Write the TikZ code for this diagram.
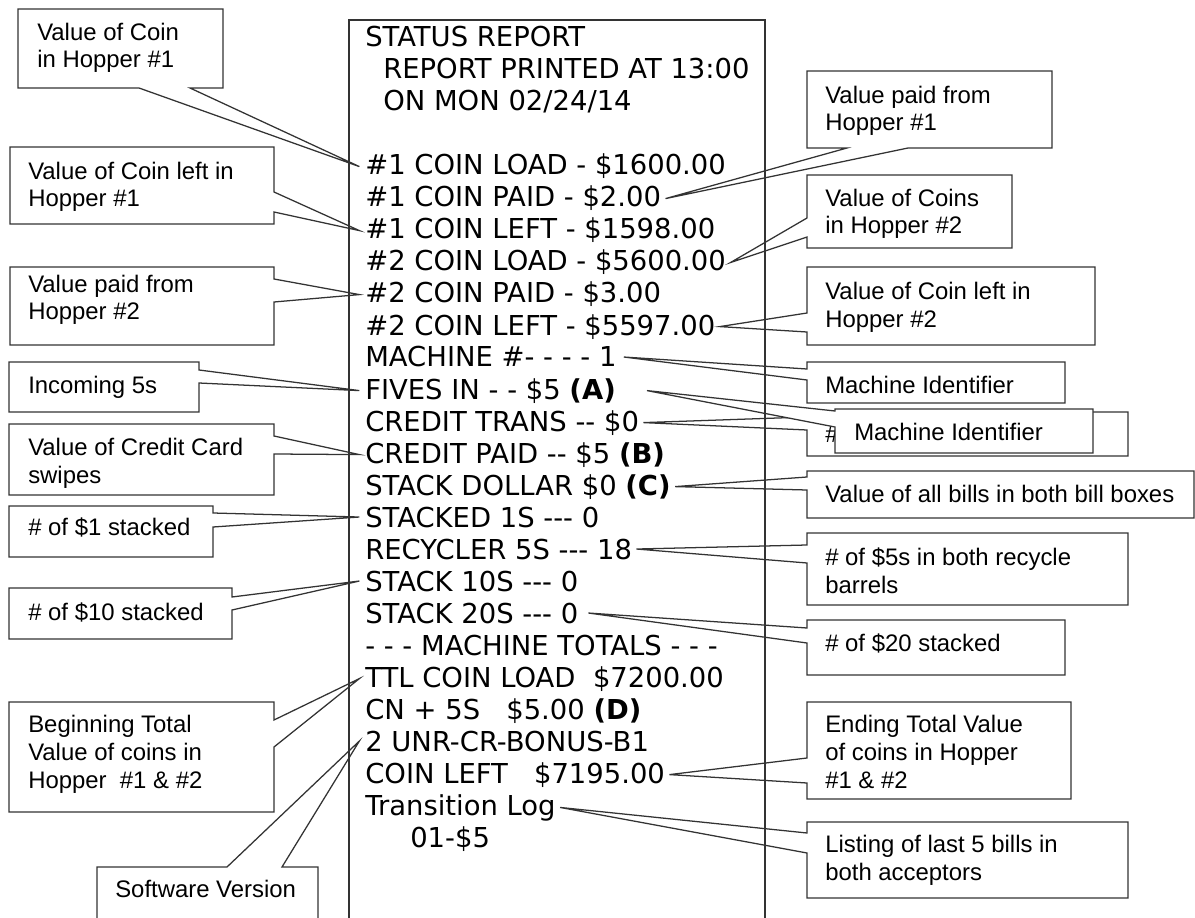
\documentclass[tikz,border=0pt]{standalone}
\usepackage{fontspec}
\usetikzlibrary{calc}
\newfontfamily\rptfont{DejaVu Sans}
\newfontfamily\callfont{Liberation Sans}
\newcommand\rptsize{\rptfont\fontsize{19.5pt}{22pt}\selectfont}
\newcommand\callsize{\callfont\fontsize{17pt}{19.6pt}\selectfont}
\tikzset{
  calloutbox/.style={draw=black!80, line width=0.9pt, fill=white, line join=miter},
  calltext/.style={font=\callsize, align=left, anchor=base west, inner sep=0pt},
  rpttext/.style={font=\rptsize, anchor=base west, inner sep=0pt},
  rptborder/.style={draw=black!80, line width=0.9pt},
}
\begin{document}
\begin{tikzpicture}[x=0.025cm, y=-0.025cm]
  \useasboundingbox (0,0) rectangle (1195,918);
  % report lines
  \foreach \n/\x/\t in {1/365/{STATUS REPORT}, 2/383/{REPORT PRINTED AT 13:00}, 3/383/{ON MON 02/24/14},
      5/365/{\#1 COIN LOAD - \$1600.00}, 6/365/{\#1 COIN PAID - \$2.00}, 7/365/{\#1 COIN LEFT - \$1598.00},
      8/365/{\#2 COIN LOAD - \$5600.00}, 9/365/{\#2 COIN PAID - \$3.00}, 10/365/{\#2 COIN LEFT - \$5597.00},
      11/365/{MACHINE \#- - - - 1}, 12/365/{FIVES IN - - \$5 \textbf{(A)}}, 13/365/{CREDIT TRANS -{}- \$0},
      14/365/{CREDIT PAID -{}- \$5 \textbf{(B)}}, 15/365/{STACK DOLLAR \$0 \textbf{(C)}}, 16/365/{STACKED 1S -{}-{}- 0},
      17/365/{RECYCLER 5S -{}-{}- 18}, 18/365/{STACK 10S -{}-{}- 0}, 19/365/{STACK 20S -{}-{}- 0},
      20/365/{- - - MACHINE TOTALS - - -}, 21/365/{TTL COIN LOAD\ \ \$7200.00}, 22/365/{CN + 5S\ \ \ \$5.00 \textbf{(D)}},
      23/365/{2 UNR-CR-BONUS-B1}, 24/365/{COIN LEFT\ \ \ \$7195.00}, 25/365/{Transition Log}, 26/410/{01-\$5}}
    \node[rpttext] (r\n) at (\x, 15+32*\n) {\t};

  % callouts on the left (text placed at its last baseline)
  \draw[calloutbox] (18,9) -- (223,9) -- (223,88) -- (190,88) -- ([xshift=-4pt]r5.west) -- (139,88) -- (18,88) -- cycle;
  \node[calltext] (vload1) at (37,68) {Value of Coin\\in Hopper \#1};
  \draw[calloutbox] (10,147) -- (274,147) -- (274,192) -- ([xshift=-4pt]r7.west) -- (274,212) -- (274,224) -- (10,224) -- cycle;
  \node[calltext] (vleft1) at (28,207) {Value of Coin left in\\Hopper \#1};
  \draw[calloutbox] (10,267) -- (274,267) -- (274,279) -- ([xshift=-4pt]r9.west) -- (274,302) -- (274,345) -- (10,345) -- cycle;
  \node[calltext] (vpaid2) at (28,320) {Value paid from\\Hopper \#2};
  \draw[calloutbox] (9,362) -- (199,362) -- (199,370) -- ([xshift=-4pt]r12.west) -- (199,383) -- (199,412) -- (9,412) -- cycle;
  \node[calltext] (fives) at (28,393) {Incoming 5s};
  \draw[calloutbox] (9,424) -- (274,424) -- (274,436) -- ([xshift=-4pt]r14.west) -- (274,454) -- (274,495) -- (9,495) -- cycle;
  \node[calltext] (credit) at (28,483) {Value of Credit Card\\swipes};
  \draw[calloutbox] (9,506) -- (213,506) -- (213,513) -- ([xshift=-4pt]r16.west) -- (213,527) -- (213,557) -- (9,557) -- cycle;
  \node[calltext] (ones) at (28,535) {\# of \$1 stacked};
  \draw[calloutbox] (9,588) -- (232,588) -- (232,597) -- ([xshift=-4pt]r18.west) -- (232,610) -- (232,639) -- (9,639) -- cycle;
  \node[calltext] (tens) at (28,620) {\# of \$10 stacked};
  \draw[calloutbox] (9,702) -- (274,702) -- (274,720) -- ([xshift=-4pt]r21.west) -- (274,747) -- (274,812) -- (9,812) -- cycle;
  \node[calltext] (begin) at (28,788) {Beginning Total\\Value of coins in\\Hopper\ \ \#1 \& \#2};
  \draw[calloutbox] (97,867) -- (227,867) -- ([xshift=-4pt]r23.west) -- (282,867) -- (318,867) -- (318,930) -- (97,930) -- cycle;
  \node[calltext] (soft) at (115,897) {Software Version};

  % callouts on the right
  \draw[calloutbox] (807,71) -- (1052,71) -- (1052,148) -- (908,148) -- ([xshift=3pt]r6.east) -- (847,148) -- (807,148) -- cycle;
  \node[calltext] (vpaid1) at (825,131) {Value paid from\\Hopper \#1};
  \draw[calloutbox] (807,175) -- (1012,175) -- (1012,248) -- (807,248) -- (807,237) -- ([xshift=3pt]r8.east) -- (807,218) -- cycle;
  \node[calltext] (vload2) at (825,234) {Value of Coins\\in Hopper \#2};
  \draw[calloutbox] (807,267) -- (1095,267) -- (1095,345) -- (807,345) -- (807,332) -- ([xshift=3pt]r10.east) -- (807,313) -- cycle;
  \node[calltext] (vleft2) at (825,327) {Value of Coin left in\\Hopper \#2};
  \draw[calloutbox] (807,362) -- (1065,362) -- (1065,403) -- (807,403) -- (807,380) -- ([xshift=5pt]r11.east) -- (807,369) -- cycle;
  \node[calltext] (machine) at (825,393) {Machine Identifier};
  \draw[calloutbox] (807,412) -- (1128,412) -- (1128,456) -- (807,456) -- (807,430) -- ([xshift=3pt]r13.east) -- (807,417) -- cycle;
  \node[calltext] (trans) at (825,442) {\#};
  \draw[calloutbox] (835,409) -- (1093,409) -- (1093,453) -- (835,453) -- (835,427) -- ([xshift=22pt]r12.east) -- (835,411) -- cycle;
  \node[calltext] (machine2) at (854,440) {Machine Identifier};
  \draw[calloutbox] (807,471) -- (1194,471) -- (1194,518) -- (807,518) -- (807,490) -- ([xshift=3pt]r15.east) -- (807,477) -- cycle;
  \node[calltext] (bills) at (825,502) {Value of all bills in both bill boxes};
  \draw[calloutbox] (807,533) -- (1128,533) -- (1128,605) -- (807,605) -- (807,563) -- ([xshift=3pt]r17.east) -- (807,545) -- cycle;
  \node[calltext] (recycle) at (825,593) {\# of \$5s in both recycle\\barrels};
  \draw[calloutbox] (807,620) -- (1065,620) -- (1065,675) -- (807,675) -- (807,643) -- ([xshift=7pt]r19.east) -- (807,628) -- cycle;
  \node[calltext] (twenties) at (825,651) {\# of \$20 stacked};
  \draw[calloutbox] (807,702) -- (1071,702) -- (1071,799) -- (807,799) -- (807,783) -- ([xshift=3pt]r24.east) -- (807,758) -- cycle;
  \node[calltext] (ending) at (825,788) {Ending Total Value\\of coins in Hopper\\\#1 \& \#2};
  \draw[calloutbox] (807,822) -- (1128,822) -- (1128,898) -- (807,898) -- (807,853) -- ([xshift=3pt]r25.east) -- (807,833) -- cycle;
  \node[calltext] (listing) at (825,880) {Listing of last 5 bills in\\both acceptors};

  % report frame, open at the bottom
  \draw[rptborder] (349,918) -- (349,20) -- (765,20) -- (765,918);
\end{tikzpicture}
\end{document}
